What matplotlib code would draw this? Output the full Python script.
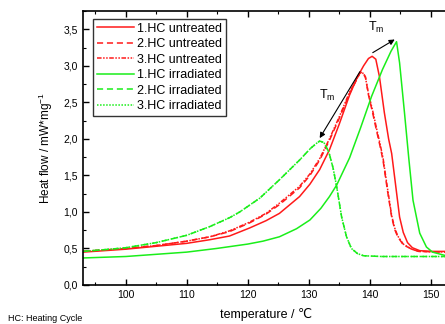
import matplotlib
matplotlib.use("Agg")
import matplotlib.pyplot as plt
from matplotlib.ticker import MultipleLocator, FuncFormatter

plt.rcParams['font.family'] = ['Liberation Sans', 'DejaVu Sans']
plt.rcParams['mathtext.default'] = 'regular'

# values
temp_unt_1 = [93, 100, 105, 110, 113.8, 117, 120.3, 123, 125.2, 128.5, 130.2, 131.8, 133.4, 135,
              136.7, 138, 139, 139.8, 140.4, 141, 141.6, 142.4, 143.1, 143.6, 144.2, 144.9,
              145.5, 146.2, 147, 148.2, 150, 153]
heat_unt_1 = [0.45, 0.49, 0.53, 0.57, 0.62, 0.67, 0.78, 0.88, 0.98, 1.21, 1.38, 1.58, 1.85, 2.2,
              2.6, 2.85, 3.0, 3.1, 3.13, 3.09, 2.85, 2.36, 2.0, 1.8, 1.4, 0.93,
              0.72, 0.58, 0.51, 0.47, 0.46, 0.46]

temp_unt_2 = [93, 100, 105, 110, 113.8, 117, 120.3, 123, 125.2, 128.5, 130.2, 131.8, 133.4, 135,
              136.7, 137.8, 138.4, 138.8, 139.3, 139.8, 140.5, 141.1, 141.7, 142.2, 142.9,
              143.6, 144.1, 144.6, 145.5, 146.9, 148, 153]
heat_unt_2 = [0.46, 0.50, 0.54, 0.60, 0.66, 0.73, 0.85, 0.97, 1.10, 1.33, 1.50, 1.71, 1.98, 2.28,
              2.62, 2.8, 2.9, 2.92, 2.85, 2.6, 2.35, 2.12, 1.9, 1.7, 1.3,
              0.93, 0.76, 0.66, 0.55, 0.49, 0.46, 0.45]
temp_unt_3 = temp_unt_2
heat_unt_3 = [0.46, 0.50, 0.54, 0.60, 0.66, 0.74, 0.86, 0.98, 1.12, 1.35, 1.52, 1.73, 2.0, 2.3,
              2.64, 2.81, 2.9, 2.91, 2.84, 2.62, 2.38, 2.15, 1.93, 1.73, 1.33,
              0.95, 0.78, 0.67, 0.56, 0.49, 0.46, 0.45]

temp_irr_1 = [93, 100, 105, 110, 114.9, 120, 122.5, 125.2, 128, 130.2, 132, 133.4, 134.6,
              136.7, 138.5, 140.3, 142.1, 143.5, 144.4, 144.9, 145.7, 146.4, 147.1, 148.2,
              149.3, 150.3, 153]
heat_irr_1 = [0.37, 0.39, 0.42, 0.45, 0.50, 0.56, 0.60, 0.66, 0.77, 0.89, 1.05, 1.21, 1.37,
              1.74, 2.15, 2.58, 2.95, 3.2, 3.33, 3.04, 2.36, 1.74, 1.16, 0.71,
              0.52, 0.45, 0.39]

temp_irr_2 = [93, 97.4, 100, 105, 110, 113.8, 117, 118.7, 122, 125.2, 128.5, 130.3, 131.3, 131.8,
              132.5, 133.3, 134, 134.6, 135.4, 136.2, 137, 138, 139, 142, 153]
heat_irr_2 = [0.46, 0.49, 0.51, 0.58, 0.68, 0.80, 0.92, 1.0, 1.19, 1.44, 1.71, 1.87, 1.94, 1.97,
              1.95, 1.82, 1.6, 1.34, 0.93, 0.66, 0.5, 0.43, 0.40, 0.39, 0.39]
temp_irr_3 = temp_irr_2
heat_irr_3 = heat_irr_2

red = '#ff1a1a'
green = '#1aee1a'

fig = plt.figure(figsize=(4.45, 3.24), dpi=100)
ax = fig.add_axes([83 / 445, 39 / 324, 366 / 445, 274 / 324])

ax.plot(temp_unt_1, heat_unt_1, color=red, lw=1.1, label='1.HC untreated')
ax.plot(temp_unt_2, heat_unt_2, color=red, lw=1.1, ls=(0, (4, 2.5)), label='2.HC untreated')
ax.plot(temp_unt_3, heat_unt_3, color=red, lw=1.1, ls=(0, (3, 1, 1, 1, 1, 1)), label='3.HC untreated')
ax.plot(temp_irr_1, heat_irr_1, color=green, lw=1.1, label='1.HC irradiated')
ax.plot(temp_irr_2, heat_irr_2, color=green, lw=1.1, ls=(0, (4, 2.5)), label='2.HC irradiated')
ax.plot(temp_irr_3, heat_irr_3, color=green, lw=1.1, ls=(0, (1, 1)), label='3.HC irradiated')

# T_m arrows
ax.annotate('', xy=(144.1, 3.36), xytext=(140.5, 3.18),
            arrowprops=dict(arrowstyle='-|>', color='k', lw=0.8, mutation_scale=8, shrinkA=0, shrinkB=0))
ax.annotate('', xy=(131.8, 2.01), xytext=(138.4, 2.92),
            arrowprops=dict(arrowstyle='-|>', color='k', lw=0.8, mutation_scale=8, shrinkA=0, shrinkB=0))
ax.text(141.1, 3.52, 'T$_{m}$', fontsize=9, ha='center', va='center')
ax.text(133.1, 2.6, 'T$_{m}$', fontsize=9, ha='center', va='center')

ax.set_xlim(93, 153)
ax.set_ylim(0, 3.75)
ax.xaxis.set_major_locator(MultipleLocator(10))
ax.xaxis.set_minor_locator(MultipleLocator(5))
ax.yaxis.set_major_locator(MultipleLocator(0.5))
ax.yaxis.set_minor_locator(MultipleLocator(0.25))
ax.yaxis.set_major_formatter(FuncFormatter(lambda v, p: '{:.1f}'.format(v).replace('.', ',')))
ax.tick_params(which='both', direction='in', top=True, right=False, labelsize=7.5)
ax.tick_params(which='major', length=4, width=1)
ax.tick_params(which='minor', length=2, width=0.8)
for s in ax.spines.values():
    s.set_linewidth(1.2)

ax.set_xlabel('temperature / \u2103', fontsize=9, labelpad=6)
ax.set_ylabel('Heat flow / mW*mg$^{-1}$', fontsize=8.5, labelpad=6)

leg = ax.legend(loc='upper left', bbox_to_anchor=(0.027, 0.971), borderaxespad=0,
                fontsize=9, frameon=True, fancybox=False, edgecolor='k',
                handlelength=3.0, handletextpad=0.25, labelspacing=0.28, borderpad=0.3)
leg.get_frame().set_linewidth(1.0)

fig.text(0.018, 0.03, 'HC: Heating Cycle', fontsize=6.5, va='top')

fig.savefig('out.png', dpi=100)
